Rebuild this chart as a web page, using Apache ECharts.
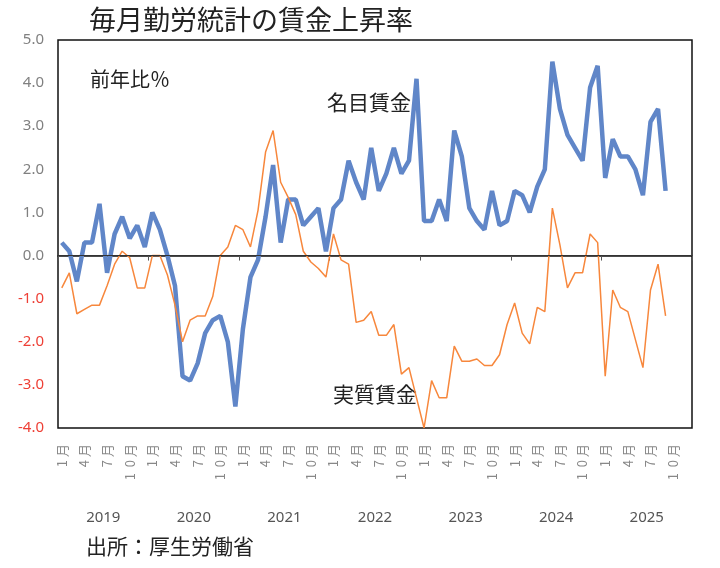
<!DOCTYPE html>
<html>
<head>
    <meta charset="utf-8">
    <title>毎月勤労統計の賃金上昇率</title>
    <script src="https://cdn.jsdelivr.net/npm/echarts@6/dist/echarts.min.js"></script>
    <style>
        html, body { margin: 0; padding: 0; background: #fff; }
    </style>
</head>
<body>
    <div id="main" style="width:720px;height:568px;"></div>
    <script type="text/javascript">
        // years and months on the axis (Jan 2019 .. Dec 2025)
        var years = ['2019', '2020', '2021', '2022', '2023', '2024', '2025'];
        var monthNames = ['1', '2', '3', '4', '5', '6', '7', '8', '9', '10', '11', '12'];

        // 名目賃金 (nominal wages), % y/y, Jan 2019 .. Sep 2025
        var nominal = [
            0.3, 0.1, -0.6, 0.3, 0.3, 1.2, -0.4, 0.5, 0.9, 0.4, 0.7, 0.2,
            1.0, 0.6, 0.0, -0.7, -2.8, -2.9, -2.5, -1.8, -1.5, -1.4, -2.0, -3.5,
            -1.7, -0.5, -0.1, 0.9, 2.1, 0.3, 1.3, 1.3, 0.7, 0.9, 1.1, 0.1,
            1.1, 1.3, 2.2, 1.7, 1.3, 2.5, 1.5, 1.9, 2.5, 1.9, 2.2, 4.1,
            0.8, 0.8, 1.3, 0.8, 2.9, 2.3, 1.1, 0.8, 0.6, 1.5, 0.7, 0.8,
            1.5, 1.4, 1.0, 1.6, 2.0, 4.5, 3.4, 2.8, 2.5, 2.2, 3.9, 4.4,
            1.8, 2.7, 2.3, 2.3, 2.0, 1.4, 3.1, 3.4, 1.5
        ];
        // 実質賃金 (real wages), % y/y
        var real = [
            -0.75, -0.4, -1.35, -1.25, -1.15, -1.15, -0.7, -0.2, 0.1, -0.05, -0.75, -0.75,
            0.0, 0.0, -0.45, -1.15, -2.0, -1.5, -1.4, -1.4, -0.95, 0.0, 0.2, 0.7,
            0.6, 0.2, 1.05, 2.4, 2.9, 1.7, 1.35, 0.95, 0.1, -0.15, -0.3, -0.5,
            0.5, -0.1, -0.2, -1.55, -1.5, -1.3, -1.85, -1.85, -1.6, -2.75, -2.6, -3.3,
            -4.0, -2.9, -3.3, -3.3, -2.1, -2.45, -2.45, -2.4, -2.55, -2.55, -2.3, -1.6,
            -1.1, -1.8, -2.05, -1.2, -1.3, 1.1, 0.25, -0.75, -0.4, -0.4, 0.5, 0.3,
            -2.8, -0.8, -1.2, -1.3, -1.95, -2.6, -0.8, -0.2, -1.4
        ];

        var categories = [];
        years.forEach(function (y) {
            monthNames.forEach(function (m) { categories.push(y + '-' + m); });
        });

        var jpFont = "'Noto Sans CJK JP', 'Noto Sans', sans-serif";
        var numFont = "'Noto Sans', 'Noto Sans CJK JP', sans-serif";

        var myChart = echarts.init(document.getElementById('main'));

        var option = {
            backgroundColor: '#fff',
            animation: false,
            title: {
                text: '毎月勤労統計の賃金上昇率',
                left: 84,
                top: 1,
                textStyle: { fontFamily: jpFont, fontSize: 27, fontWeight: 'normal', color: '#222' }
            },
            grid: {
                left: 58,
                right: 28,
                top: 40,
                bottom: 140,
                show: true,
                borderColor: '#111',
                borderWidth: 1.5
            },
            xAxis: [
                {
                    type: 'category',
                    data: categories,
                    boundaryGap: true,
                    axisLine: { show: true, lineStyle: { color: '#111', width: 1.5 } },
                    axisTick: { show: true, interval: 11, length: 5, lineStyle: { color: '#555' } },
                    axisLabel: {
                        interval: 2,
                        rotate: 90,
                        margin: 16,
                        fontFamily: jpFont,
                        fontSize: 13,
                        color: '#888',
                        formatter: function (value) {
                            var m = value.split('-')[1];
                            // wide, stacked-looking spacing as in the printed chart
                            return m.split('').join('  ') + ' 月';
                        }
                    },
                    splitLine: { show: false }
                },
                {
                    type: 'category',
                    data: years,
                    position: 'bottom',
                    offset: 82,
                    axisLine: { show: false },
                    axisTick: { show: false },
                    axisLabel: { margin: 0, fontFamily: numFont, fontSize: 15, color: '#555' }
                }
            ],
            yAxis: {
                type: 'value',
                min: -4,
                max: 5,
                interval: 1,
                axisLine: { show: false },
                axisTick: { show: false },
                splitLine: { show: false },
                axisLabel: {
                    margin: 14,
                    fontFamily: numFont,
                    fontSize: 15,
                    formatter: function (v) { return v.toFixed(1); },
                    color: function (v) { return Number(v) < 0 ? '#ee4036' : '#808080'; }
                }
            },
            graphic: [
                { type: 'text', left: 90, top: 69, style: { text: '前年比％', font: '20px ' + jpFont, fill: '#222' } },
                { type: 'text', left: 327, top: 92, style: { text: '名目賃金', font: '21px ' + jpFont, fill: '#222' } },
                { type: 'text', left: 333, top: 384, style: { text: '実質賃金', font: '21px ' + jpFont, fill: '#222' } },
                { type: 'text', left: 86, top: 536, style: { text: '出所：厚生労働省', font: '21px ' + jpFont, fill: '#222' } }
            ],
            series: [
                {
                    name: '名目賃金',
                    type: 'line',
                    data: nominal,
                    symbol: 'none',
                    lineStyle: { color: '#6086c8', width: 4.5 },
                    markLine: {
                        silent: true,
                        symbol: 'none',
                        label: { show: false },
                        lineStyle: { color: '#333', width: 1, type: 'solid' },
                        data: [{ yAxis: 0 }]
                    }
                },
                {
                    name: '実質賃金',
                    type: 'line',
                    data: real,
                    symbol: 'none',
                    lineStyle: { color: '#f7873c', width: 1.5 }
                }
            ]
        };

        myChart.setOption(option);
    </script>
</body>
</html>
